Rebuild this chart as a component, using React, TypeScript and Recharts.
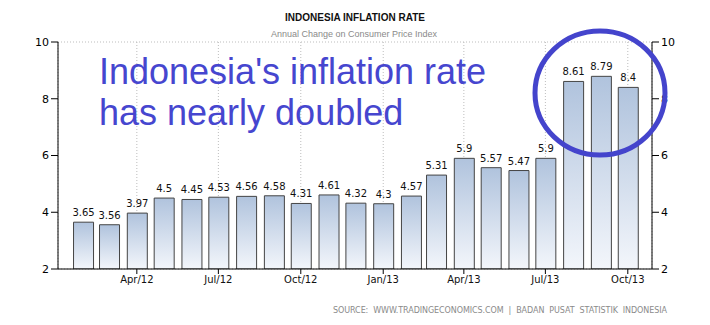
import React from "react";
import {
	BarChart,
	Bar,
	XAxis,
	YAxis,
	CartesianGrid,
	LabelList
} from "recharts";

// month index (0 = Jan 2012) and annual CPI change
const months = [0, 1, 2, 3, 4, 5, 6, 7, 8, 9, 10, 11, 12, 13, 14, 15, 16, 17, 18, 19, 20];
const inflation = [
	3.65, 3.56, 3.97, 4.5, 4.45, 4.53, 4.56, 4.58, 4.31, 4.61, 4.32, 4.3,
	4.57, 5.31, 5.9, 5.57, 5.47, 5.9, 8.61, 8.79, 8.4
];
const tickMonths = [3, 6, 9, 12, 15, 18, 21];
const tickLabels = ["Apr/12", "Jul/12", "Oct/12", "Jan/13", "Apr/13", "Jul/13", "Oct/13"];
const yTicks = [2, 4, 6, 8, 10];

const toTime = (m: number) => Date.UTC(2012, m, 1);

// bars sit at the end of their month
const data = months.map((m, i) => ({ date: toTime(m + 1), value: inflation[i] }));
const xTicks = tickMonths.map(toTime);
const labelFor: Record<number, string> = {};
xTicks.forEach((t, i) => (labelFor[t] = tickLabels[i]));

const FONT = "DejaVu Sans, sans-serif";

export default function App() {
	return (
		<div style={{ position: "relative", width: 710, height: 325, margin: -8, background: "#fff" }}>
			<BarChart
				width={710}
				height={325}
				data={data}
				margin={{ top: 42, right: 18, bottom: 26, left: 18 }}
			>
				<defs>
					<linearGradient id="barFill" x1="0" y1="0" x2="0" y2="1">
						<stop offset="0%" stopColor="#b0c3dd" />
						<stop offset="100%" stopColor="#f3f6fb" />
					</linearGradient>
				</defs>
				<CartesianGrid stroke="#bdbdbd" strokeDasharray="1 2" />
				<XAxis
					dataKey="date"
					type="number"
					scale="time"
					domain={[Date.UTC(2012, 0, 4), Date.UTC(2013, 9, 28)]}
					ticks={xTicks}
					tickFormatter={(v: number) => labelFor[v] ?? ""}
					tick={{ fill: "#111", fontSize: 10, fontFamily: FONT }}
					stroke="#000"
					tickSize={5}
					height={30}
					allowDataOverflow
				/>
				<YAxis
					yAxisId="left"
					orientation="left"
					domain={[2, 10]}
					ticks={yTicks}
					tick={{ fill: "#000", fontSize: 11, fontFamily: FONT }}
					stroke="#000"
					tickSize={7}
					width={40}
					allowDataOverflow
				/>
				<YAxis
					yAxisId="right"
					orientation="right"
					domain={[2, 10]}
					ticks={yTicks}
					tick={{ fill: "#000", fontSize: 11, fontFamily: FONT }}
					stroke="#000"
					tickSize={7}
					width={40}
					allowDataOverflow
				/>
				<Bar
					yAxisId="left"
					dataKey="value"
					barSize={20}
					fill="url(#barFill)"
					stroke="#444"
					strokeWidth={1}
					isAnimationActive={false}
				>
					<LabelList
						dataKey="value"
						position="top"
						offset={6}
						style={{ fill: "#111", fontSize: 10, fontFamily: FONT }}
					/>
				</Bar>
			</BarChart>
			<svg
				width={710}
				height={325}
				style={{ position: "absolute", left: 0, top: 0, pointerEvents: "none" }}
			>
				<text x={355} y={21} textAnchor="middle" fontFamily="Liberation Sans, Arial, sans-serif" fontWeight="bold" fontSize={10} fill="#111">
					INDONESIA INFLATION RATE
				</text>
				<text x={354} y={37} textAnchor="middle" fontFamily="Liberation Sans, Arial, sans-serif" fontSize={9} fill="#8a8a8a">
					Annual Change on Consumer Price Index
				</text>
				<text x={99} y={84} fontFamily="Liberation Sans, Arial, sans-serif" fontSize={36} fill="#4646cf">
					Indonesia's inflation rate
				</text>
				<text x={99} y={125} fontFamily="Liberation Sans, Arial, sans-serif" fontSize={36} fill="#4646cf">
					has nearly doubled
				</text>
				<ellipse cx={600} cy={93} rx={65} ry={62} fill="none" stroke="#4444cc" strokeWidth={5} />
				<text
					x={667}
					y={313}
					textAnchor="end"
					textLength={334}
					lengthAdjust="spacing"
					fontFamily={FONT}
					fontSize={8}
					fill="#8a8a8a"
					style={{ whiteSpace: "pre" }}
				>
					{"SOURCE:  WWW.TRADINGECONOMICS.COM  |  BADAN  PUSAT  STATISTIK  INDONESIA"}
				</text>
			</svg>
		</div>
	);
}
